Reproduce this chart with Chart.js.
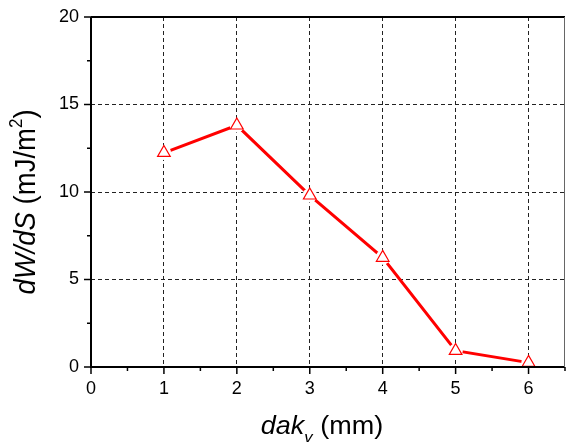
<!DOCTYPE html>
<html><head><meta charset="utf-8">
<script src="https://cdn.jsdelivr.net/npm/chart.js@4/dist/chart.umd.min.js"></script>
<style>html,body{margin:0;padding:0;background:#fff;}#wrap{width:566px;height:445px;position:relative;}</style>
</head><body><div id="wrap"><canvas id="c"></canvas></div>
<script>
// ---- data ----
const xValues = [1, 2, 3, 4, 5, 6];            // dak_v (mm)
const yValues = [12.24, 13.81, 9.81, 6.25, 0.93, 0.25]; // dW/dS (mJ/m^2)
const xTickLabels = [0, 1, 2, 3, 4, 5, 6];
const yTickLabels = [0, 5, 10, 15, 20];
const xRange = [0, 6.5];
const yRange = [0, 20];
const xMinorStep = 0.5;
const yMinorStep = 2.5;

const FONT = '"Liberation Sans", Arial, Helvetica, sans-serif';
const points = xValues.map((x, i) => ({x: x, y: yValues[i]}));

function buildTicks(min, max, step) {
  const t = [];
  for (let v = min; v <= max + 1e-9; v += step) t.push({value: Math.round(v * 1000) / 1000});
  return t;
}
const isMajorX = v => xTickLabels.includes(v);
const isMajorY = v => yTickLabels.includes(v);

const framePlugin = {
  id: 'frame',
  afterDraw(chart) {
    const ctx = chart.ctx;
    const a = chart.chartArea;
    const xs = chart.scales.x, ys = chart.scales.y;
    ctx.save();
    // tick marks (outward)
    ctx.strokeStyle = '#000';
    ctx.lineWidth = 1.5;
    xs.ticks.forEach(t => {
      const px = xs.getPixelForValue(t.value);
      const len = isMajorX(t.value) ? 7 : 4;
      ctx.beginPath(); ctx.moveTo(px, a.bottom); ctx.lineTo(px, a.bottom + len); ctx.stroke();
    });
    ys.ticks.forEach(t => {
      const py = ys.getPixelForValue(t.value);
      const len = isMajorY(t.value) ? 7 : 4;
      ctx.beginPath(); ctx.moveTo(a.left, py); ctx.lineTo(a.left - len, py); ctx.stroke();
    });
    // frame
    ctx.lineWidth = 2;
    ctx.beginPath();
    ctx.moveTo(a.left, a.top); ctx.lineTo(a.left, a.bottom); ctx.lineTo(a.right, a.bottom);
    ctx.moveTo(a.left, a.top); ctx.lineTo(a.right, a.top);
    ctx.stroke();
    ctx.strokeStyle = '#666';
    ctx.lineWidth = 1;
    ctx.beginPath(); ctx.moveTo(a.right - 0.5, a.top); ctx.lineTo(a.right - 0.5, a.bottom); ctx.stroke();

    // axis titles (mixed italic / sub / superscript)
    function segWidth(seg, size) {
      ctx.font = (seg.italic ? 'italic ' : '') + (seg.small ? size * 0.62 : size) + 'px ' + FONT;
      return ctx.measureText(seg.text).width;
    }
    function drawRich(segs, size) {
      let total = 0;
      segs.forEach(s => total += segWidth(s, size));
      let x = -total / 2;
      ctx.fillStyle = '#000';
      ctx.textBaseline = 'alphabetic';
      ctx.textAlign = 'left';
      segs.forEach(s => {
        const w = segWidth(s, size);
        const dy = s.sub ? size * 0.3 : (s.sup ? -size * 0.45 : 0);
        ctx.fillText(s.text, x, dy);
        x += w;
      });
    }
    // x title
    ctx.save();
    ctx.translate(322, 434);
    ctx.scale(1.08, 1);
    drawRich([
      {text: 'dak', italic: true},
      {text: 'v', italic: true, small: true, sub: true},
      {text: ' (mm)'}
    ], 25);
    ctx.restore();
    // y title
    ctx.save();
    ctx.translate(35, 202);
    ctx.rotate(-Math.PI / 2);
    ctx.scale(1.1, 1.2);
    drawRich([
      {text: 'dW/dS', italic: true},
      {text: ' (mJ/m'},
      {text: '2', small: true, sup: true},
      {text: ')'}
    ], 25);
    ctx.restore();
    ctx.restore();
  }
};

const gridColor = (major) => (ctx) => {
  const v = ctx.tick ? ctx.tick.value : null;
  if (v === null) return 'rgba(0,0,0,0)';
  return major(v) ? '#222' : 'rgba(0,0,0,0)';
};
const zeroPad = s => { s.paddingLeft = 0; s.paddingRight = 0; s.paddingTop = 0; s.paddingBottom = 0; };

new Chart(document.getElementById('c'), {
  type: 'line',
  data: {
    datasets: [
      {
        data: points, borderColor: '#ff0000', borderWidth: 3, pointRadius: 0,
        tension: 0, fill: false, order: 3
      },
      {
        data: points, showLine: false, pointStyle: 'circle', pointRadius: 7.2,
        pointBackgroundColor: '#ffffff', pointBorderWidth: 0, pointBorderColor: '#ffffff', order: 2
      },
      {
        data: points, showLine: false, pointStyle: 'triangle', pointRadius: 7.3,
        pointBackgroundColor: '#ffffff', pointBorderColor: '#ff0000', pointBorderWidth: 1.2,
        clip: false, order: 1
      }
    ]
  },
  options: {
    responsive: true, maintainAspectRatio: false, animation: false,
    layout: {autoPadding: false, padding: {left: 0, right: 1, top: 17, bottom: 0}},
    plugins: {legend: {display: false}, tooltip: {enabled: false}},
    scales: {
      x: {
        type: 'linear', min: xRange[0], max: xRange[1],
        afterBuildTicks: s => { s.ticks = buildTicks(xRange[0], xRange[1], xMinorStep); },
        afterFit: s => { s.height = 78; zeroPad(s); },
        ticks: {
          autoSkip: false, maxRotation: 0, padding: 11, color: '#000',
          font: {family: FONT, size: 18},
          callback: v => isMajorX(v) ? String(v) : ''
        },
        grid: {
          drawTicks: false,
          color: gridColor(v => isMajorX(v) && v !== xRange[0]),
          lineWidth: 1, borderDash: [4, 3]
        },
        border: {display: false, dash: [4, 3]}
      },
      y: {
        type: 'linear', min: yRange[0], max: yRange[1],
        afterBuildTicks: s => { s.ticks = buildTicks(yRange[0], yRange[1], yMinorStep); },
        afterFit: s => { s.width = 91; zeroPad(s); },
        ticks: {
          autoSkip: false, padding: 12, color: '#000',
          font: {family: FONT, size: 18},
          callback: v => isMajorY(v) ? String(v) : ''
        },
        grid: {
          drawTicks: false,
          color: gridColor(v => isMajorY(v) && v !== yRange[0] && v !== yRange[1]),
          lineWidth: 1, borderDash: [4, 3]
        },
        border: {display: false, dash: [4, 3]}
      }
    }
  },
  plugins: [framePlugin]
});
</script>
</body></html>
